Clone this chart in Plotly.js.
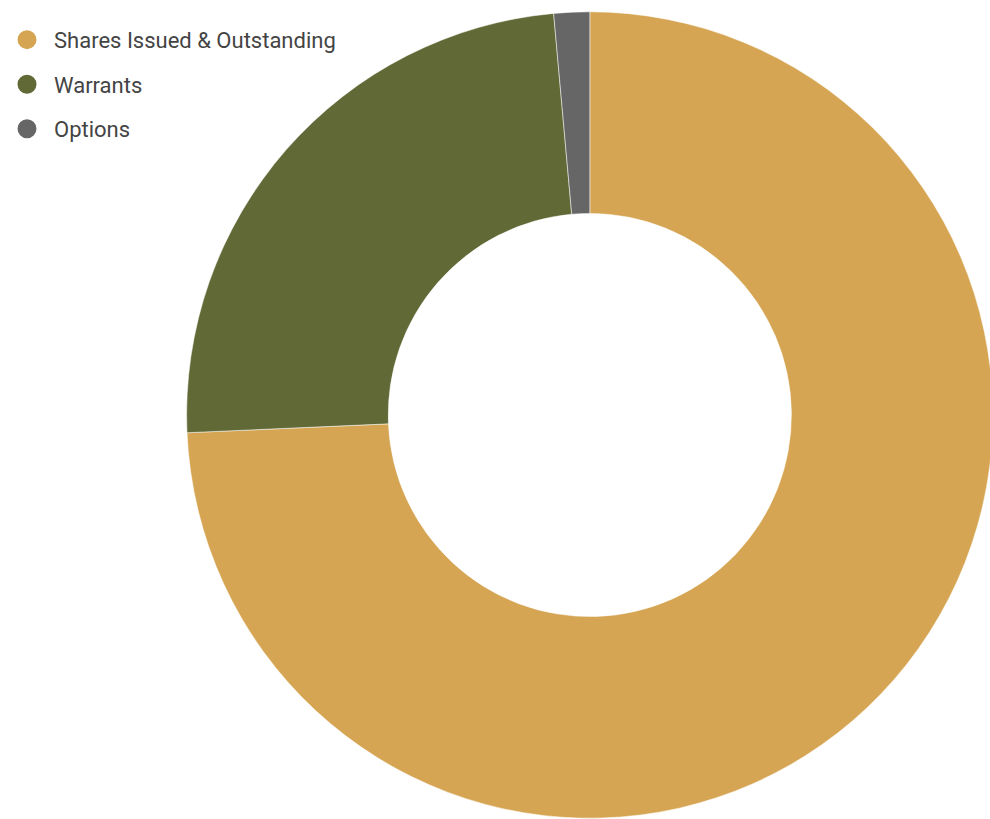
<!DOCTYPE html>
<html>
<head>
<meta charset="utf-8">
<script src="https://cdn.plot.ly/plotly-3.0.1.min.js"></script>
<style>html,body{margin:0;padding:0;overflow:hidden;background:#fff;}</style>
</head>
<body>
<div id="chart" style="width:1000px;height:819px;"></div>
<script>
const labels = ["Shares Issued & Outstanding", "Warrants", "Options"];
const values = [74.3, 24.27, 1.43];
const colors = ["#D6A553", "#616A36", "#666666"];

const traces = [{
  type: "pie",
  labels: labels,
  values: values,
  hole: 0.5,
  sort: false,
  direction: "clockwise",
  rotation: 0,
  textinfo: "none",
  hoverinfo: "label+percent",
  showlegend: false,
  marker: {colors: colors, line: {color: "#ffffff", width: 0.5}},
  domain: {x: [185/1000, 993/1000], y: [0, (819-11)/819]}
}];
labels.forEach((l, i) => {
  traces.push({
    type: "scatter", mode: "markers", x: [null], y: [null],
    name: l, legendgroup: "g" + i, showlegend: true,
    marker: {color: colors[i], size: 16, symbol: "circle", line: {color: colors[i], width: 3}},
    hoverinfo: "skip"
  });
});

const layout = {
  width: 1000, height: 819,
  margin: {l: 0, r: 0, t: 0, b: 0},
  paper_bgcolor: "#ffffff", plot_bgcolor: "rgba(0,0,0,0)",
  xaxis: {visible: false}, yaxis: {visible: false},
  showlegend: true,
  legend: {x: -0.002, y: 0.977, xanchor: "left", yanchor: "top",
           itemwidth: 44,
           font: {family: "Roboto", size: 22, color: "#444444"},
           tracegroupgap: 13, bgcolor: "rgba(0,0,0,0)"}
};
Plotly.newPlot("chart", traces, layout, {displayModeBar: false, staticPlot: true});
</script>
</body>
</html>
